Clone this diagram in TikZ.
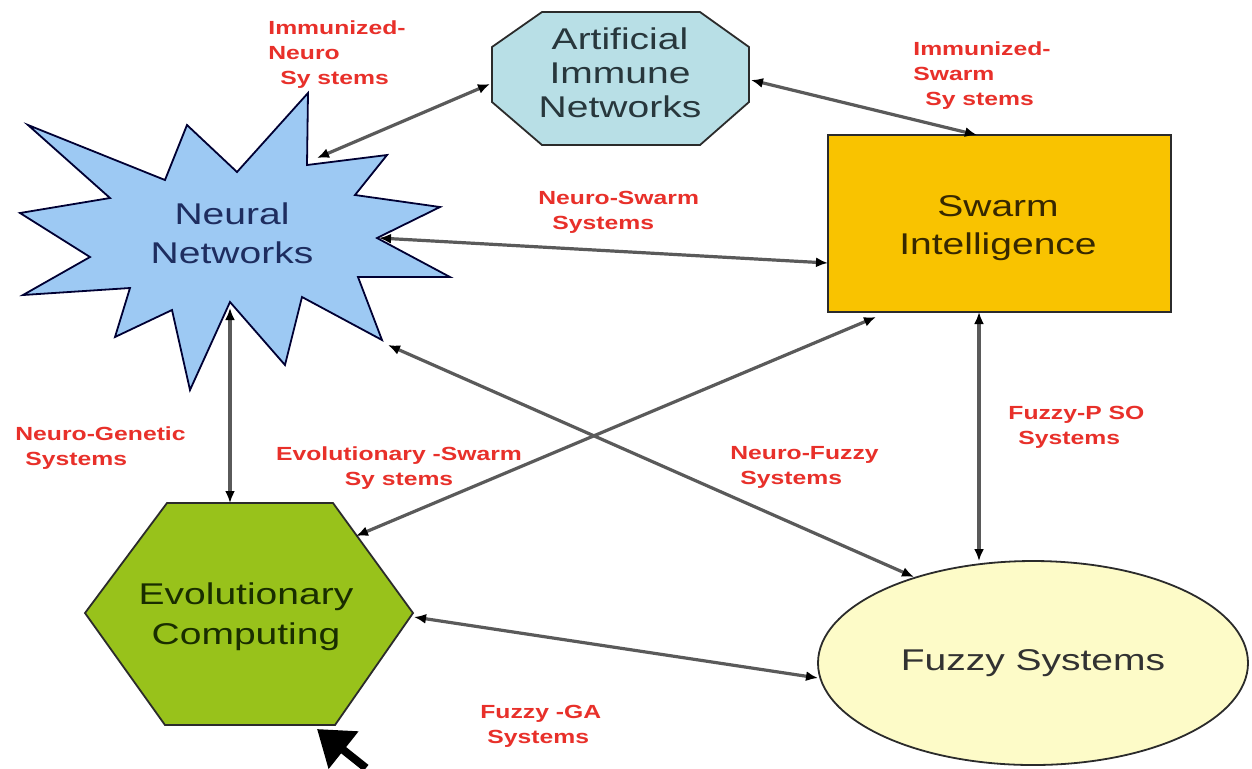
\documentclass[tikz,border=0pt]{standalone}
\usepackage{fontspec}
\usetikzlibrary{arrows.meta,shapes.geometric}
\newfontfamily\nodefont[FakeStretch=1.3]{Liberation Sans}
\newfontfamily\labfont[FakeStretch=1.3]{Liberation Sans}
\definecolor{starfill}{HTML}{9DC9F3}
\definecolor{ainfill}{HTML}{B8DFE6}
\definecolor{swfill}{HTML}{F9C300}
\definecolor{evofill}{HTML}{98C21B}
\definecolor{fzfill}{HTML}{FDFBC8}
\definecolor{labred}{HTML}{E8302A}
\definecolor{edgecol}{HTML}{2B2B2B}
\definecolor{conncol}{HTML}{5A5A5A}
\begin{document}
\begin{tikzpicture}[x=0.5pt,y=-0.5pt,
  shapeline/.style={draw=edgecol,line width=0.9pt,line join=miter},
  maintext/.style={font=\nodefont\fontsize{15pt}{17.5pt}\selectfont,align=center,inner sep=0pt},
  lab/.style={font=\labfont\bfseries\fontsize{9.5pt}{12.5pt}\selectfont,text=labred,align=left,inner sep=0pt,anchor=north west},
  conn/.style={draw=conncol,line width=1.6pt,{Latex[length=6pt,width=5pt,color=black]}-{Latex[length=6pt,width=5pt,color=black]}},
  bigptr/.style={draw=black,line width=4pt,-{Triangle[length=17pt,width=23pt]}}]
\useasboundingbox (0,0) rectangle (1252,768);
\fill[white] (0,0) rectangle (1252,768);

% Neural Networks starburst
\draw[shapeline,fill=starfill,draw=black!80!blue] (28,125) -- (165,180) -- (187,125) -- (237,172) -- (308,93) -- (307,165)
  -- (387,155) -- (355,195) -- (440,207) -- (377,238) -- (450,277) -- (358,277) -- (382,340)
  -- (302,297) -- (285,365) -- (230,302) -- (190,390) -- (172,310) -- (115,337) -- (130,288)
  -- (23,295) -- (90,257) -- (20,213) -- (110,198) -- cycle;
\node[maintext,text={rgb,255:red,30;green,45;blue,95},font=\nodefont\fontsize{15pt}{19.5pt}\selectfont] (nn) at (232,233) {Neural\\Networks};

% Artificial Immune Networks octagon
\draw[shapeline,fill=ainfill] (542,12) -- (700,12) -- (749,47) -- (749,102) -- (700,145) -- (542,145) -- (492,102) -- (492,47) -- cycle;
\node[maintext,text={rgb,255:red,40;green,55;blue,60},font=\nodefont\fontsize{15pt}{17pt}\selectfont] (ain) at (620,73) {Artificial\\Immune\\Networks};

% Swarm Intelligence rectangle
\node[shapeline,fill=swfill,rectangle,minimum width=171.5pt,minimum height=88.5pt,inner sep=0pt] (sw) at (999.5,223.5) {};
\node[maintext,text={rgb,255:red,55;green,40;blue,0},font=\nodefont\fontsize{15pt}{19pt}\selectfont] (swt) at (998,228) {Swarm\\Intelligence};

% Evolutionary Computing hexagon
\draw[shapeline,fill=evofill] (167,503) -- (333,503) -- (413,613) -- (335,725) -- (165,725) -- (85,613) -- cycle;
\node[maintext,text={rgb,255:red,25;green,45;blue,0},font=\nodefont\fontsize{15pt}{20pt}\selectfont] (evo) at (246,617) {Evolutionary\\Computing};

% Fuzzy Systems ellipse
\node[shapeline,fill=fzfill,ellipse,minimum width=215pt,minimum height=102pt,inner sep=0pt,
  font=\nodefont\fontsize{15pt}{18pt}\selectfont,text={rgb,255:red,50;green,50;blue,50}] (fz) at (1033,663) {Fuzzy Systems};

% connector end points
\coordinate (nn-ain) at (317,158);
\coordinate (ain-w) at (490,84);
\coordinate (ain-e) at (751,80);
\coordinate (sw-n) at (977,135);
\coordinate (nn-e) at (379,238);
\coordinate (sw-w) at (828,263);
\coordinate (nn-se) at (388,345);
\coordinate (fz-nw) at (914,577);
\coordinate (sw-sw) at (876,317);
\coordinate (evo-ne) at (356,536);
\coordinate (nn-s) at (230,308);
\coordinate (evo-n) at (230,503);
\coordinate (sw-s) at (979,312);
\coordinate (fz-n) at (979,561);
\coordinate (evo-e) at (414,617);
\coordinate (fz-w) at (818,678);

\draw[conn] (nn-ain) -- (ain-w);
\draw[conn] (ain-e) -- (sw-n);
\draw[conn] (nn-e) -- (sw-w);
\draw[conn] (nn-se) -- (fz-nw);
\draw[conn] (sw-sw) -- (evo-ne);
\draw[conn] (nn-s) -- (evo-n);
\draw[conn] (sw-s) -- (fz-n);
\draw[conn] (evo-e) -- (fz-w);

% big black pointer
\coordinate (ptr-tail) at (366,768);
\coordinate (ptr-tip) at (317,729);
\draw[bigptr] (ptr-tail) -- (ptr-tip);

% labels
\node[lab] (l-imn) at (268,20) {Immunized-\\Neuro\\\hspace*{6pt}Sy stems};
\node[lab] (l-ims) at (913,41) {Immunized-\\Swarm\\\hspace*{6pt}Sy stems};
\node[lab] (l-nsw) at (538,191) {Neuro-Swarm\\\hspace*{7pt}Systems};
\node[lab] (l-ngn) at (15,426) {Neuro-Genetic\\\hspace*{5pt}Systems};
\node[lab,align=center,anchor=north] (l-evs) at (399,446) {Evolutionary -Swarm\\Sy stems};
\node[lab] (l-nfz) at (730,446) {Neuro-Fuzzy\\\hspace*{5pt}Systems};
\node[lab] (l-fpso) at (1008,406) {Fuzzy-P SO\\\hspace*{5pt}Systems};
\node[lab] (l-fga) at (480,705) {Fuzzy -GA\\\hspace*{3.5pt}Systems};
\end{tikzpicture}
\end{document}
